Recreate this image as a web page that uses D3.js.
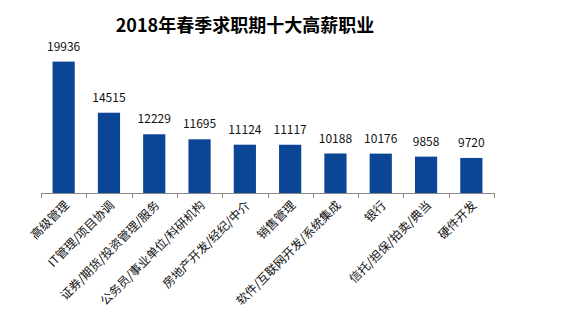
<!DOCTYPE html>
<html>
<head>
<meta charset="utf-8">
<script src="https://cdn.jsdelivr.net/npm/d3@7"></script>
<style>
  body { margin: 0; background: #fff; }
  text { font-family: "Noto Sans CJK SC", sans-serif; }
</style>
</head>
<body>
<div class="chart"></div>
<script>
// 画布大小
const width = 562
const height = 335

// 职业类别与平均月薪
const jobs = ["高级管理", "IT管理/项目协调", "证券/期货/投资管理/服务", "公务员/事业单位/科研机构",
	"房地产开发/经纪/中介", "销售管理", "软件/互联网开发/系统集成", "银行", "信托/担保/拍卖/典当", "硬件开发"]
const salaries = [19936, 14515, 12229, 11695, 11124, 11117, 10188, 10176, 9858, 9720]
const titleText = "2018年春季求职期十大高薪职业"

const svg = d3.select(".chart").append("svg")
	.attr("width", width)
	.attr("height", height)

// 横轴：类别带
const x = d3.scaleBand()
	.domain(jobs)
	.range([41, 494])
	.paddingInner(0.51)
	.paddingOuter(0.255)

// 纵轴：不从零开始
const y = d3.scaleLinear()
	.domain([6000, 20000])
	.range([193, 61])

// 标题
svg.append("text")
	.attr("x", 245)
	.attr("y", 32)
	.attr("text-anchor", "middle")
	.attr("font-size", "18px")
	.attr("font-weight", "bold")
	.attr("fill", "#000")
	.text(titleText)

// 柱子
svg.selectAll("rect.bar")
	.data(salaries)
	.enter()
	.append("rect")
	.attr("class", "bar")
	.attr("x", (d, i) => x(jobs[i]))
	.attr("y", d => y(d))
	.attr("width", x.bandwidth())
	.attr("height", d => y.range()[0] - y(d))
	.attr("fill", "#0b4595")

// 数值标签
svg.selectAll("text.val")
	.data(salaries)
	.enter()
	.append("text")
	.attr("class", "val")
	.attr("x", (d, i) => x(jobs[i]) + x.bandwidth() / 2)
	.attr("y", d => y(d) - 11)
	.attr("text-anchor", "middle")
	.attr("font-size", "12px")
	.attr("fill", "#111")
	.text(d => d)

// 坐标轴线与刻度（刻度位于类别边界）
const axisY = y.range()[0]
const step = x.step()
const x0 = x.range()[0]
svg.append("line")
	.attr("x1", x0).attr("x2", x.range()[1])
	.attr("y1", axisY + 0.5).attr("y2", axisY + 0.5)
	.attr("stroke", "#888").attr("stroke-width", 1)

svg.selectAll("line.tick")
	.data(d3.range(jobs.length + 1))
	.enter()
	.append("line")
	.attr("class", "tick")
	.attr("x1", i => Math.round(x0 + i * step) + 0.5)
	.attr("x2", i => Math.round(x0 + i * step) + 0.5)
	.attr("y1", axisY)
	.attr("y2", axisY + 5)
	.attr("stroke", "#888")

// 类别标签，旋转45度
svg.selectAll("text.cat")
	.data(jobs)
	.enter()
	.append("text")
	.attr("class", "cat")
	.attr("text-anchor", "end")
	.attr("font-size", "12px")
	.attr("fill", "#111")
	.attr("transform", d => {
		const cx = x(d) + x.bandwidth() / 2 + 6
		return "translate(" + cx + "," + (axisY + 13) + ") rotate(-45)"
	})
	.text(d => d)
</script>
</body>
</html>
